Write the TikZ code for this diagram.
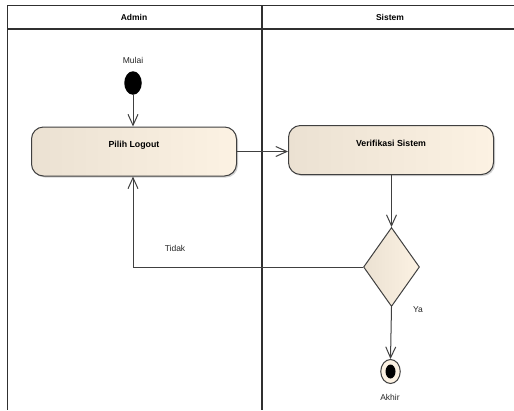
\documentclass[tikz,border=0pt]{standalone}
\usepackage{fontspec}
\setmainfont{Liberation Sans}
\usetikzlibrary{arrows.meta,shapes.geometric,shadows}
\definecolor{lanecol}{HTML}{303030}
\definecolor{linecol}{HTML}{404040}
\definecolor{fillL}{HTML}{EBE1D2}
\definecolor{fillR}{HTML}{FCF2E3}
\tikzset{
  lane/.style={draw=lanecol, line width=1.4pt},
  lanehead/.style={font=\fontsize{8.5}{10}\selectfont\bfseries, text=black},
  actbox/.style={draw=linecol, line width=1pt, rounded corners=12pt,
    left color=fillL, right color=fillR,
    minimum width=205pt, minimum height=49pt,
    drop shadow={shadow xshift=1.5pt, shadow yshift=-1.5pt, opacity=0.35}},
  acttext/.style={font=\fontsize{8.8}{10}\selectfont\bfseries, text=black},
  initnode/.style={ellipse, fill=black, minimum width=17.5pt, minimum height=23.5pt, inner sep=0pt},
  endnode/.style={ellipse, draw=linecol, line width=1pt, fill=fillR,
    minimum width=19.5pt, minimum height=24pt, inner sep=0pt},
  enddot/.style={ellipse, fill=black, minimum width=10pt, minimum height=14pt, inner sep=0pt},
  decision/.style={diamond, draw=linecol, line width=1pt, left color=fillL, right color=fillR,
    minimum width=56pt, minimum height=79pt, inner sep=0pt},
  lbl/.style={font=\fontsize{8.5}{10}\selectfont, text=black!85},
  flow/.style={draw=linecol, line width=1pt, -{Straight Barb[length=11pt,width=10pt]}},
}
\begin{document}
\begin{tikzpicture}[x=1pt,y=-1pt]
  \useasboundingbox (0,0) rectangle (514,410);
  \fill[white] (0,0) rectangle (514,410);

  % swimlane frame and header
  \draw[lane] (514,5.5) -- (7.5,5.5) -- (7.5,410);
  \draw[lane] (7.5,29) -- (514,29);
  \draw[lane] (262,5.5) -- (262,410);
  \node[lanehead] (hAdmin) at (134,17) {Admin};
  \node[lanehead] (hSistem) at (390,17) {Sistem};

  % start
  \node[lbl] (lMulai) at (133,60) {Mulai};
  \node[initnode] (start) at (133,83) {};

  % actions
  \node[actbox] (pilih) at (134,151.5) {};
  \node[acttext] (tPilih) at (134,145) {Pilih Logout};
  \node[actbox] (verif) at (391,150) {};
  \node[acttext] (tVerif) at (391,143) {Verifikasi Sistem};

  % decision
  \node[decision] (dec) at (391.5,267) {};
  \node[lbl] (lYa) at (418,310) {Ya};

  % end
  \node[endnode] (end) at (390.5,371.5) {};
  \node[enddot] (endIn) at (end.center) {};
  \node[lbl] (lAkhir) at (390,397) {Akhir};

  % connectors
  \draw[flow] (start.south) -- (start.south |- pilih.north);
  \draw[flow] (pilih.east) -- (pilih.east -| verif.west);
  \draw[flow] (dec.north |- verif.south) -- (dec.north);
  \draw[flow] (dec.south) -- (end.north);
  \draw[flow] (dec.west) -| (start.south |- pilih.south);
  \node[lbl] (lTidak) at (175,248) {Tidak};
\end{tikzpicture}
\end{document}
